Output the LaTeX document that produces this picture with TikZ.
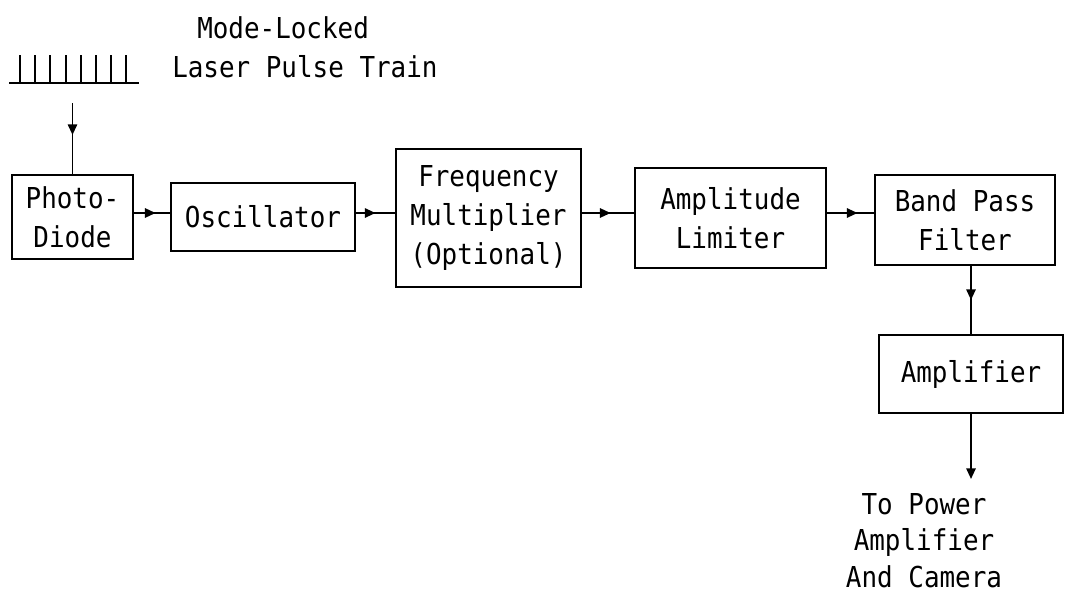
\documentclass[tikz,border=0pt]{standalone}
\usepackage{fontspec}
\setmonofont{DejaVu Sans Mono}[FakeStretch=0.9]
\usetikzlibrary{arrows.meta,decorations.markings}

\tikzset{
  lbl/.style={font=\ttfamily\fontsize{21.6pt}{28.9pt}\selectfont, inner sep=0pt, align=center},
  block/.style={lbl, draw, line width=1.5pt},
  wire/.style={line width=1.4pt},
  flow/.style={wire, postaction={decorate},
    decoration={markings, mark=at position #1 with {\arrow{Triangle[length=8pt,width=7pt]}}}},
  flow/.default=0.55,
  feed/.style={wire, -{Triangle[length=8pt,width=7pt]}},
}

\begin{document}
\begin{tikzpicture}[x=0.75pt,y=-0.75pt]
  \useasboundingbox (0,0) rectangle (1066,596);

  % pulse train symbol
  \draw[wire] (9,83) -- (139,83);
  \foreach \t in {20,35,50,66,81,96,111,126}
    \draw[wire] (\t,55) -- (\t,83);

  \node[lbl, anchor=base west] (title1) at (197,38) {Mode-Locked};
  \node[lbl, anchor=base west] (title2) at (172,77) {Laser Pulse Train};

  % signal chain
  \node[block, minimum width=90.75pt, minimum height=63pt]   (pd)  at (72.5,217) {Photo-\\Diode};
  \node[block, minimum width=138pt,   minimum height=51pt]   (osc) at (263,217)  {Oscillator};
  \node[block, minimum width=138.75pt,minimum height=103.5pt](fm)  at (488.5,218){Frequency\\Multiplier\\(Optional)};
  \node[block, minimum width=143.25pt,minimum height=75pt]   (al)  at (730.5,218){Amplitude\\Limiter};
  \node[block, minimum width=135pt,   minimum height=67.5pt] (bpf) at (965,220)  {Band Pass\\Filter};
  \node[block, minimum width=138pt,   minimum height=58.5pt] (amp) at (971,374)  {Amplifier};

  \node[lbl, anchor=north, font=\ttfamily\fontsize{21.6pt}{27.4pt}\selectfont]
    (dest) at (924,493) {To Power\\Amplifier\\And Camera};

  \coordinate (row)   at (0,213);
  \coordinate (train) at (72.5,103);
  \coordinate (out)   at (971,479);

  % connectors
  \draw[flow=0.45] (train) -- (pd.north);
  \draw[flow=0.6]  (pd.east  |- row) -- (osc.west |- row);
  \draw[flow=0.5]  (osc.east |- row) -- (fm.west  |- row);
  \draw[flow=0.55] (fm.east  |- row) -- (al.west  |- row);
  \draw[flow=0.65] (al.east  |- row) -- (bpf.west |- row);
  \draw[flow=0.5]  (bpf.south -| amp.north) -- (amp.north);
  \draw[feed] (amp.south) -- (out);
\end{tikzpicture}
\end{document}
